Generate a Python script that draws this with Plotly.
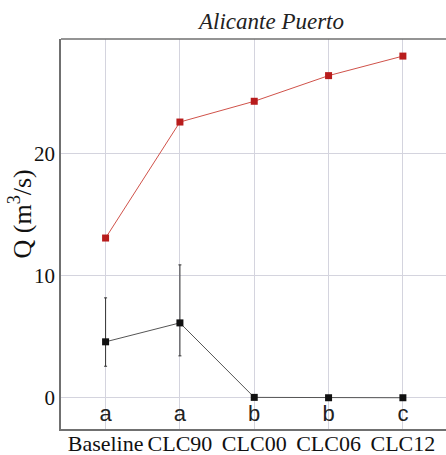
import plotly.graph_objects as go

categories = ["Baseline", "CLC90", "CLC00", "CLC06", "CLC12"]
red_values = [13.1, 22.6, 24.3, 26.4, 28.0]
black_values = [4.6, 6.15, 0.05, 0.02, 0.02]
black_err_plus = [3.6, 4.75, 0.0, 0.0, 0.0]
black_err_minus = [2.0, 2.7, 0.0, 0.0, 0.0]
group_letters = ["a", "a", "b", "b", "c"]
letter_y = -1.4

xpos = list(range(len(categories)))

fig = go.Figure()
fig.add_trace(go.Scatter(
    x=xpos, y=red_values, mode="lines+markers",
    line=dict(color="#d0524a", width=1),
    marker=dict(symbol="square", size=7, color="#b81c1c"),
    showlegend=False,
))
fig.add_trace(go.Scatter(
    x=xpos, y=black_values, mode="lines+markers",
    line=dict(color="#555555", width=1),
    marker=dict(symbol="square", size=7, color="#111111"),
    error_y=dict(type="data", symmetric=False, array=black_err_plus,
                 arrayminus=black_err_minus, color="#333333", thickness=1, width=1.5),
    showlegend=False,
))
fig.add_trace(go.Scatter(
    x=xpos, y=[letter_y] * len(xpos), mode="text", text=group_letters,
    textfont=dict(family="Liberation Sans, Arial", size=22, color="#222222"),
    showlegend=False, hoverinfo="skip",
))

fig.update_layout(
    width=446, height=455,
    margin=dict(l=61, r=0, t=39, b=26),
    paper_bgcolor="white", plot_bgcolor="white",
    font=dict(family="Liberation Serif, Times New Roman", size=18, color="#111111"),
    annotations=[
        dict(text="<i>Alicante Puerto</i>", x=(270 - 61) / (446 - 61), xref="paper",
             y=1, yref="paper", yanchor="middle", showarrow=False,
             font=dict(family="Liberation Serif", size=23, color="#222222"),
             yshift=18),
        dict(text="Q (m<sup>3</sup>/s)", x=0, xref="paper", y=0.55, yref="paper",
             xanchor="center", yanchor="middle", textangle=-90, showarrow=False,
             xshift=-40, font=dict(family="Liberation Serif", size=26, color="#111111")),
    ],
)

fig.update_xaxes(
    range=[-0.6, 4.58], tickvals=xpos, ticktext=categories,
    showgrid=True, gridcolor="#d4d4de", gridwidth=1,
    showline=True, linecolor="#707070", linewidth=1.5, mirror=False,
    ticks="", zeroline=False, tickfont=dict(size=22), automargin=False,
    ticklabelstandoff=-6,
)
fig.update_yaxes(
    range=[-2.54, 29.4], tickvals=[0, 10, 20],
    showgrid=True, gridcolor="#d4d4de", gridwidth=1,
    showline=True, linecolor="#707070", linewidth=1.5,
    ticks="", zeroline=False, tickfont=dict(size=21), automargin=False,
)
# top frame line
fig.add_shape(type="line", xref="paper", yref="paper", x0=0, x1=1, y0=1, y1=1,
              line=dict(color="#707070", width=1.5))

fig.write_html("out.html")
